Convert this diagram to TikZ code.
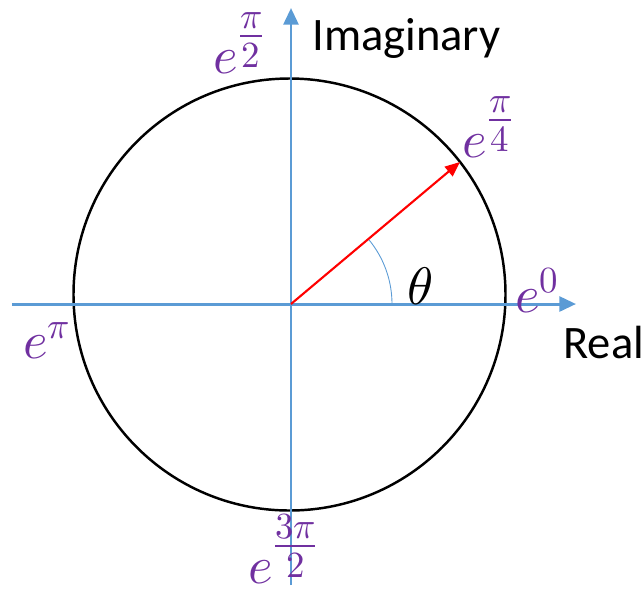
\documentclass[tikz,border=0pt]{standalone}
\usepackage{fontspec}
\usepackage{unicode-math}
\setmainfont{Carlito}
\setmathfont{Latin Modern Math}
\usetikzlibrary{arrows.meta}
\definecolor{caxis}{HTML}{5B9BD5}
\definecolor{cpurple}{HTML}{7030A0}
\definecolor{cred}{HTML}{FF0000}

\begin{document}
\begin{tikzpicture}[
  x=0.02cm, y=0.02cm,
  axis/.style={draw=caxis, line width=1.7pt,
               -{Triangle[length=9.5pt, width=8.5pt]}},
  ring/.style={draw=black, line width=1.4pt},
  vec/.style={draw=cred, line width=1.2pt,
              -{Triangle[length=8.5pt, width=7pt]}},
  anglearc/.style={draw=caxis, line width=0.5pt},
  axlabel/.style={inner sep=0pt, font=\fontsize{26.5}{32}\selectfont},
  expo/.style={inner sep=0pt, text=cpurple, font=\fontsize{30}{36}\selectfont}
]
\useasboundingbox (-291,-289) rectangle (353,304);

\coordinate (o)  at (0,0);
\coordinate (xw) at (-279,0);
\coordinate (xe) at (285,0);
\coordinate (ys) at (0,-281);
\coordinate (yn) at (0,296);
\coordinate (p)  at (169,142);

\draw[ring] (-1.5,9.5) circle[radius=216];
\draw[axis] (xw) -- (xe);
\draw[axis] (ys) -- (yn);
\draw[anglearc] (101,0) arc[start angle=0, end angle=40, radius=101];
\draw[vec] (o) -- (p);

\node[font=\fontsize{30}{36}\selectfont] (theta) at (129,18) {$\theta$};
\node[axlabel, anchor=base west] (imag) at (21,254) {Imaginary};
\node[axlabel, anchor=base west] (real) at (272,-54) {Real};

\node[expo, anchor=base west] (e0)   at (224,-8)   {$e^{0}$};
\node[expo, anchor=base west] (epi4) at (171,147)  {$e^{\textstyle\frac{\pi}{4}}$};
\node[expo, anchor=base west] (epi2) at (-78,231)  {$e^{\textstyle\frac{\pi}{2}}$};
\node[expo, anchor=base west] (epi)  at (-268,-54) {$e^{\pi}$};
\node[expo, anchor=base west] (e3pi) at (-43,-279) {$e^{\textstyle\frac{3\pi}{2}}$};
\end{tikzpicture}
\end{document}
